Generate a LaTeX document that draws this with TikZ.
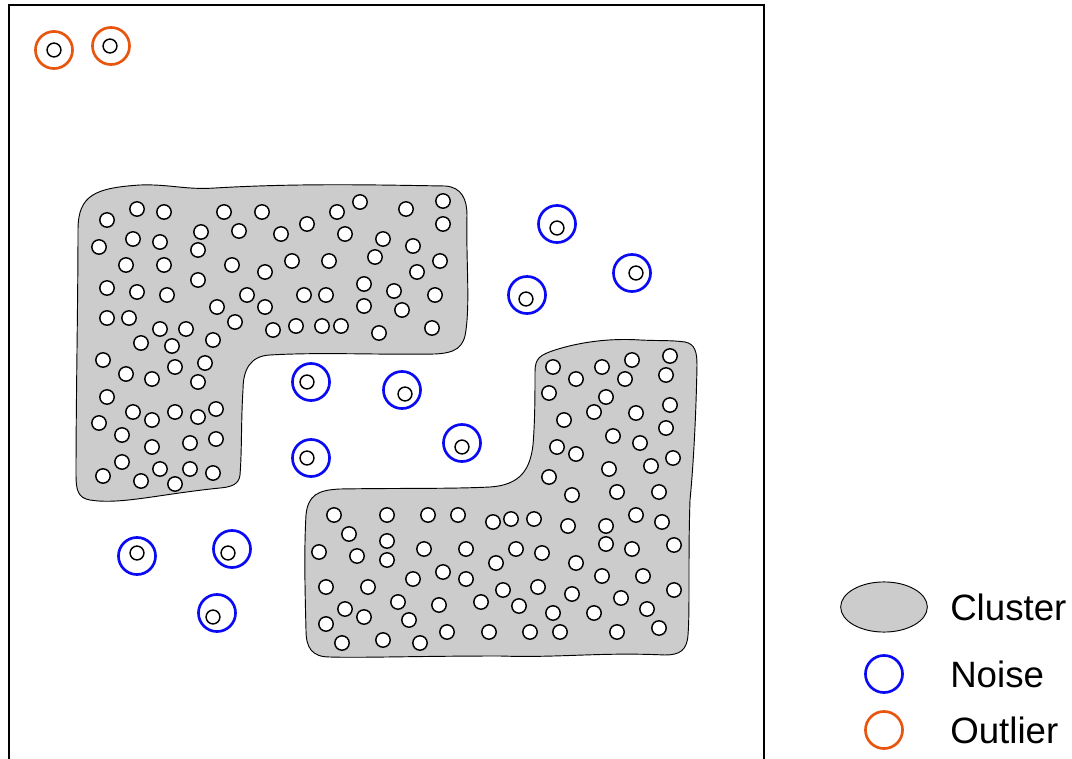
\documentclass[tikz,border=0pt]{standalone}
\usepackage{fontspec}
\setmainfont{Liberation Sans}
\definecolor{clustergray}{HTML}{CCCCCC}
\definecolor{noiseblue}{HTML}{0A0AF5}
\definecolor{outlierorange}{HTML}{E8550F}
\tikzset{
  pt/.style={draw=black, fill=white, line width=1.1pt},
  inner/.style={draw=black, line width=1.1pt},
  noisering/.style={draw=noiseblue, line width=2pt},
  outring/.style={draw=outlierorange, line width=2pt},
  clusterarea/.style={draw=black, fill=clustergray, line width=0.7pt},
  legendtext/.style={anchor=base west, inner sep=0pt, font=\fontsize{27.5}{30}\selectfont}
}
\begin{document}
\begin{tikzpicture}[x=0.75pt, y=-0.75pt]
\useasboundingbox (0,0) rectangle (1072,759);
% frame
\draw[line width=1.5pt] (9,759) -- (9,5) -- (764,5) -- (764,759);

% left cluster
\path[clusterarea] (78,230) .. controls (78,195) and (95,188) .. (140,185)
  .. controls (170,184) and (185,190) .. (215,188)
  .. controls (300,183) and (380,185) .. (445,186)
  .. controls (462,187) and (467,200) .. (467,215)
  .. controls (466,260) and (470,300) .. (466,330)
  .. controls (464,348) and (455,353) .. (435,354)
  .. controls (380,355) and (320,352) .. (270,355)
  .. controls (250,356) and (243,370) .. (243,390)
  .. controls (241,420) and (242,450) .. (240,475)
  .. controls (239,484) and (232,487) .. (220,488)
  .. controls (160,494) and (120,505) .. (90,500)
  .. controls (78,498) and (76,490) .. (76,475)
  .. controls (76,400) and (78,300) .. (78,230) -- cycle;

% right cluster
\path[clusterarea] (535,372) .. controls (535,358) and (540,355) .. (555,350)
  .. controls (580,342) and (610,338) .. (640,340)
  .. controls (660,341) and (670,340) .. (685,342)
  .. controls (695,344) and (697,352) .. (697,365)
  .. controls (696,420) and (693,470) .. (690,500)
  .. controls (688,560) and (690,610) .. (688,635)
  .. controls (687,650) and (680,655) .. (665,655)
  .. controls (600,652) and (560,658) .. (500,656)
  .. controls (420,656) and (360,658) .. (330,657)
  .. controls (312,657) and (306,648) .. (306,630)
  .. controls (305,590) and (304,550) .. (306,515)
  .. controls (308,495) and (318,490) .. (340,489)
  .. controls (400,488) and (450,489) .. (490,487)
  .. controls (520,485) and (530,470) .. (533,445)
  .. controls (535,420) and (535,395) .. (535,372) -- cycle;

% left cluster points
\foreach \x/\y in {107/220,137/209,164/212,224/212,262/212,201/232,239/231,99/247,133/239,160/242,198/250,126/265,164/265,232/265,265/272,107/288,137/292,167/295,198/280,247/295,217/307,265/307,107/318,129/318,160/329,186/329,235/322,213/340,141/343,172/346,
360/202,337/212,406/209,443/201,443/224,307/224,281/234,345/234,383/239,413/246,292/261,329/261,375/257,440/261,417/272,304/295,326/295,364/284,394/291,435/295,364/306,402/310,273/330,296/326,322/326,341/326,379/333,432/328,
103/360,126/374,152/379,175/367,205/363,198/382,107/397,133/412,152/420,175/412,198/417,216/409,99/423,122/435,152/447,190/443,216/439,122/462,160/469,190/469,213/473,103/476,141/481,175/484}
  \path[pt] (\x,\y) circle[radius=5.4pt];

% right cluster points
\foreach \x/\y in {553/367,576/379,602/367,632/360,670/356,666/375,625/379,549/393,606/397,594/412,636/413,670/405,564/420,666/428,613/436,640/443,557/447,576/454,609/469,651/466,673/458,549/477,572/495,617/492,659/492,
636/515,662/522,493/522,511/519,534/519,568/526,606/526,606/544,632/549,674/545,516/549,542/553,496/563,576/563,602/576,643/576,503/590,538/587,572/594,621/598,674/590,519/606,553/613,594/613,647/609,530/632,560/632,617/632,659/628,
334/515,387/515,428/515,458/515,349/534,387/541,319/552,357/556,387/560,424/549,466/549,443/572,466/579,413/579,326/587,368/587,398/602,439/605,481/602,345/609,364/617,409/620,326/624,342/643,383/640,420/643,447/632,489/632}
  \path[pt] (\x,\y) circle[radius=5.4pt];

% noise points
\foreach \ox/\oy/\ix/\iy in {557/224/557/228,632/273/636/273,527/295/526/299,311/382/307/382,402/390/405/394,462/443/462/447,311/458/307/458,137/556/137/553,232/549/228/553,217/613/213/617}{
  \path[noisering] (\ox,\oy) circle[radius=13.9pt];
  \path[inner] (\ix,\iy) circle[radius=5.2pt];
}

% outliers
\foreach \ox/\oy/\ix/\iy in {54/50/54/50,111/46/110/46}{
  \path[outring] (\ox,\oy) circle[radius=13.9pt];
  \path[inner] (\ix,\iy) circle[radius=5.2pt];
}

% legend
\path[clusterarea] (884,607) ellipse[x radius=32.5pt, y radius=18.8pt];
\node[noisering, circle, minimum size=27.8pt, inner sep=0pt] (noiseleg) at (884,674) {};
\node[outring, circle, minimum size=27.8pt, inner sep=0pt] (outleg) at (884,730) {};
\node[legendtext] (tcluster) at (950,620) {Cluster};
\node[legendtext] (tnoise) at (950,687) {Noise};
\node[legendtext] (toutlier) at (950,743) {Outlier};
\end{tikzpicture}
\end{document}
